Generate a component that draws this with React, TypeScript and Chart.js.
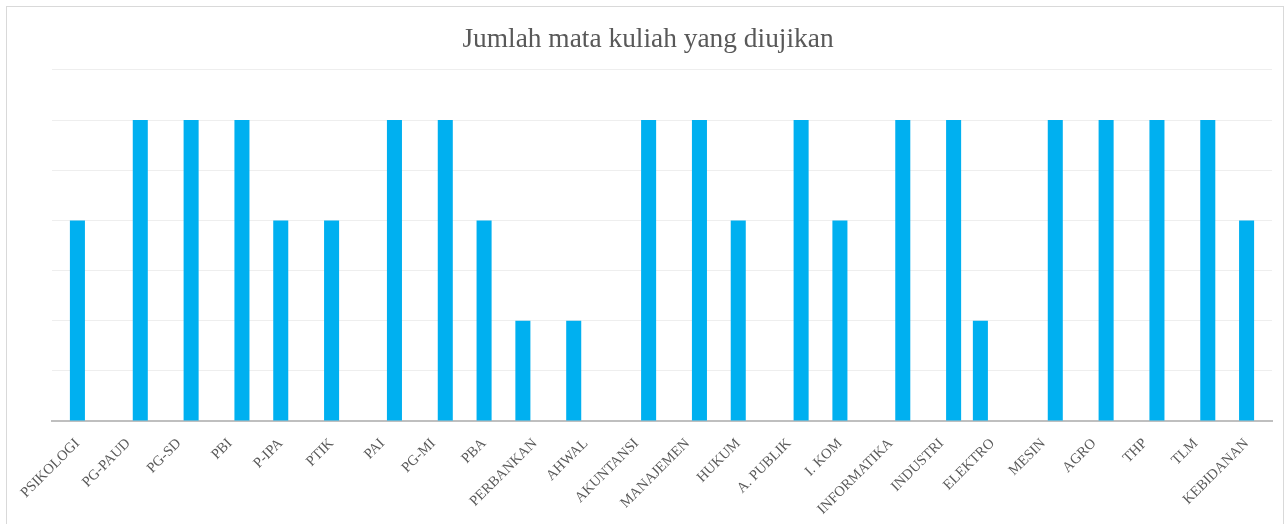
import React, { useEffect, useRef } from "react";
import { Chart, registerables } from "chart.js";

Chart.register(...registerables);

const titleText = "Jumlah mata kuliah yang diujikan";

const categories = [
  "PSIKOLOGI", "PG-PAUD", "PG-SD", "PBI", "P-IPA", "PTIK", "PAI", "PG-MI",
  "PBA", "PERBANKAN", "AHWAL", "AKUNTANSI", "MANAJEMEN", "HUKUM", "A. PUBLIK",
  "I. KOM", "INFORMATIKA", "INDUSTRI", "ELEKTRO", "MESIN", "AGRO", "THP", "TLM",
  "KEBIDANAN",
];

// Three clustered series (left / middle / right slot), as in the source chart
const seriesLeft = [
  null, null, null, null, null, null, null, null,
  null, 2, 2, null, null, null, null,
  null, null, null, 2, null, null, null, null,
  null,
];
const seriesMiddle = [
  4, null, null, null, 4, 4, null, null,
  4, null, null, null, null, 4, null,
  4, null, null, null, null, null, null, null,
  4,
];
const seriesRight = [
  null, 6, 6, 6, null, null, 6, 6,
  null, null, null, 6, 6, null, 6,
  null, 6, 6, null, 6, 6, 6, 6,
  null,
];

const yMin = 0;
const yMax = 7;
const yStep = 1;

const barColor = "#00B0F0";
const textColor = "#595959";

export default function App() {
  const canvasRef = useRef<HTMLCanvasElement | null>(null);

  useEffect(() => {
    if (!canvasRef.current) return;
    const mk = (label: string, data: (number | null)[]) => ({
      label,
      data,
      backgroundColor: barColor,
      borderWidth: 0,
      categoryPercentage: 0.71,
      barPercentage: 1.25,
    });
    const chart = new Chart(canvasRef.current, {
      type: "bar",
      data: {
        labels: categories,
        datasets: [
          mk("Seri 1", seriesLeft),
          mk("Seri 2", seriesMiddle),
          mk("Seri 3", seriesRight),
        ],
      },
      options: {
        animation: false,
        responsive: true,
        maintainAspectRatio: false,
        layout: { padding: { left: 17, right: 11, top: 0, bottom: 0 } },
        plugins: {
          legend: { display: false },
          tooltip: { enabled: false },
          title: {
            display: true,
            text: titleText,
            color: textColor,
            font: { family: "'Liberation Serif', serif", size: 27.4, weight: "normal" },
            padding: { top: 16, bottom: 14 },
          },
        },
        scales: {
          x: {
            grid: { display: false },
            border: { display: true, color: "#BFBFBF", width: 2 },
            ticks: {
              color: textColor,
              font: { family: "'Liberation Serif', serif", size: 14.5 },
              maxRotation: 45,
              minRotation: 45,
              autoSkip: false,
              padding: 6,
            },
          },
          y: {
            min: yMin,
            max: yMax,
            afterFit: (scale: any) => {
              scale.width = 28;
            },
            ticks: { display: false, stepSize: yStep },
            grid: { color: "#EEEEEE", lineWidth: 1, drawTicks: false },
            border: { display: false },
          },
        },
      },
    });
    return () => chart.destroy();
  }, []);

  return (
    <div
      style={{
        position: "absolute",
        left: 6,
        top: 6,
        width: 1276,
        height: 530,
        border: "1px solid #D9D9D9",
        background: "#fff",
      }}
    >
      <div style={{ position: "relative", width: 1276, height: 517 }}>
        <canvas ref={canvasRef} />
      </div>
    </div>
  );
}
